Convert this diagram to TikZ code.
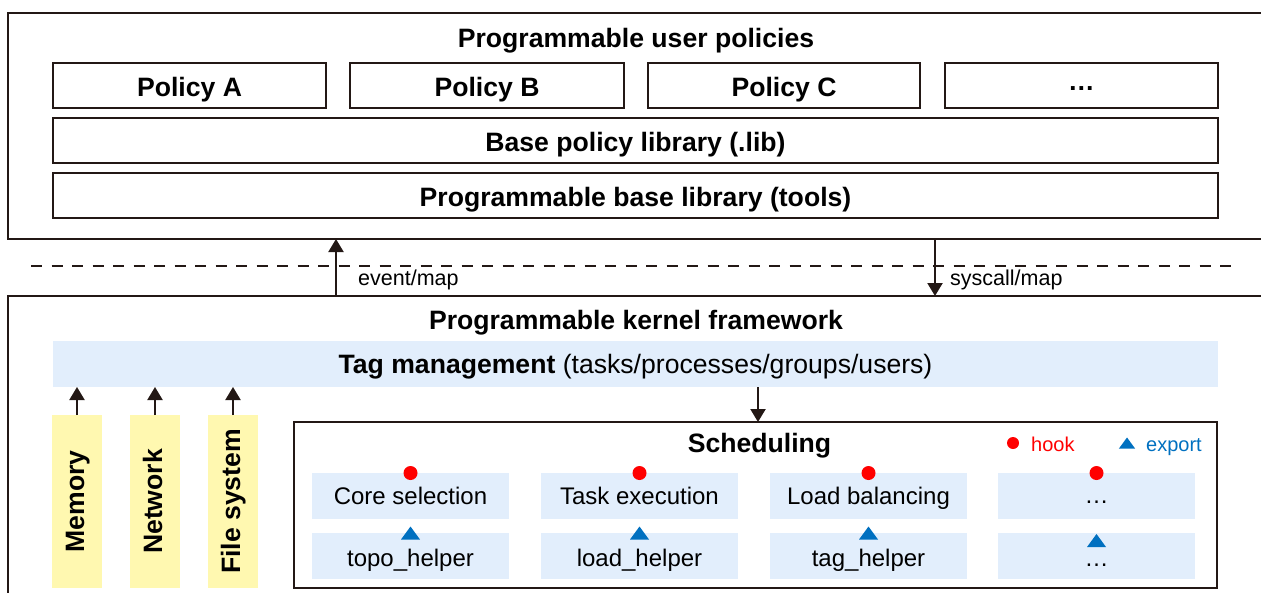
\documentclass[tikz,border=0pt]{standalone}
\usepackage{fontspec}
\setmainfont{Liberation Sans}
\usetikzlibrary{arrows.meta}
\definecolor{ink}{HTML}{231815}
\definecolor{tagblue}{HTML}{E2EEFC}
\definecolor{memyellow}{HTML}{FFF8B0}
\definecolor{hookred}{HTML}{FF0000}
\definecolor{expblue}{HTML}{0070C0}
\newcommand\bigbold{\fontsize{26.6}{30}\selectfont\bfseries}
\newcommand\subtext{\fontsize{24}{28}\selectfont}
\newcommand\edgetext{\fontsize{21.5}{25}\selectfont}
\newcommand\legendtext{\fontsize{20}{24}\selectfont}
\tikzset{
  frame/.style={draw=ink, line width=2.2pt, inner sep=0pt, outer sep=0pt},
  title/.style={font=\bigbold, text=black, inner sep=0pt, text height=19pt, text depth=0pt},
  policybox/.style={frame, font=\bigbold, text height=22pt, text depth=0pt, minimum height=45pt},
  tagbox/.style={fill=tagblue, inner sep=0pt, outer sep=0pt, font=\fontsize{26.6}{30}\selectfont,
    text height=19pt, text depth=0pt},
  subbox/.style={fill=tagblue, inner sep=0pt, outer sep=0pt, minimum width=197pt, minimum height=46pt,
    font=\subtext, text height=17.2pt, text depth=0pt},
  lowsub/.style={subbox, text height=21.2pt},
  resbox/.style={fill=memyellow, inner sep=0pt, outer sep=0pt, rotate=90, minimum width=173pt,
    minimum height=49.5pt, font=\bigbold, text height=19pt, text depth=5pt},
  arr/.style={draw=ink, line width=2.2pt, -{Triangle[width=15pt,length=13pt]}},
  edgelabel/.style={font=\edgetext, inner sep=0pt, anchor=west},
  hookdot/.style={circle, fill=hookred, inner sep=0pt, minimum size=14pt},
  exporttri/.pic={\fill[expblue] (-9.5,6.5) -- (9.5,6.5) -- (0,-6.5) -- cycle;}
}
\begin{document}
\begin{tikzpicture}[x=1pt,y=-1pt]
\useasboundingbox (0,0) rectangle (1261,592);
\clip (0,0) rectangle (1261,592);

% user-space layer
\node[frame, minimum width=1267pt, minimum height=226pt] (user) at (641.5,126) {};
\node[title] (usertitle) at (636,38) {Programmable user policies};
\node[policybox, minimum width=273pt] (pa) at (189.5,85.5) {Policy A};
\node[policybox, minimum width=274pt] (pb) at (487,85.5) {Policy B};
\node[policybox, minimum width=272pt] (pc) at (784,85.5) {Policy C};
\node[policybox, minimum width=273pt] (pd) at (1081.5,85.5) {\raisebox{6pt}{…}};
\node[policybox, minimum width=1165pt] (baselib) at (635.5,140.5) {Base policy library (.lib)};
\node[policybox, minimum width=1165pt] (toollib) at (635.5,195.5) {Programmable base library (tools)};

% user/kernel boundary
\draw[ink, line width=1.5pt, dash pattern=on 11pt off 9.5pt] (31,266) -- (1240,266);

% kernel layer
\node[frame, minimum width=1267pt, minimum height=314pt] (kernel) at (641.5,453) {};
\node[title] (kerneltitle) at (636,320) {Programmable kernel framework};
\node[tagbox, minimum width=1165pt, minimum height=46pt] (tag) at (635.5,364)
  {{\bfseries Tag management} (tasks/processes/groups/users)};

% crossings between the layers
\coordinate (evx) at (336,0);
\coordinate (scx) at (935,0);
\draw[arr] (kernel.north -| evx) -- (user.south -| evx);
\draw[arr] (user.south -| scx) -- (kernel.north -| scx);
\node[edgelabel] (evlabel) at (358,280) {event/map};
\node[edgelabel] (sclabel) at (950,280) {syscall/map};

% subsystems feeding tags
\node[resbox] (mem) at (77,501.5) {Memory};
\node[resbox, minimum height=50pt] (net) at (155,501.5) {Network};
\node[resbox, minimum height=50pt] (fs) at (233,501.5) {File system};
\foreach \r in {mem,net,fs}
  \draw[arr] (\r.east) -- (tag.south -| \r.east);

% scheduling block
\node[frame, minimum width=923pt, minimum height=166pt] (sched) at (755.5,505) {};
\coordinate (schx) at (758,0);
\draw[arr] (tag.south -| schx) -- (sched.north -| schx);
\node[title] (schedtitle) at (759.5,443) {Scheduling};

% legend
\node[hookdot, minimum size=12pt] (lhook) at (1013,443) {};
\node[font=\legendtext, text=hookred, inner sep=0pt, anchor=west, text height=14pt, text depth=0pt] (lhooktext) at (1031,444) {hook};
\pic[scale=0.85] at (1127,443) {exporttri};
\node[font=\legendtext, text=expblue, inner sep=0pt, anchor=west, text height=14pt, text depth=0pt] (lexptext) at (1146,444) {export};

% hook points and helpers
\node[subbox] (core) at (410.5,496) {Core selection};
\node[subbox] (exec) at (639.5,496) {Task execution};
\node[subbox] (bal) at (868.5,496) {Load balancing};
\node[subbox] (more) at (1096.5,496) {\raisebox{1.5pt}{…}};
\node[lowsub] (topo) at (410.5,556) {topo\_helper};
\node[lowsub] (load) at (639.5,556) {load\_helper};
\node[lowsub] (taghelp) at (868.5,556) {tag\_helper};
\node[lowsub] (morehelp) at (1096.5,556) {…};

\foreach \b in {core,exec,bal,more}
  \node[hookdot] at (\b.north) {};
\foreach \b in {topo,load,taghelp}
  \pic at (\b.north) {exporttri};
\pic[yshift=-7.5pt] at (morehelp.north) {exporttri};
\end{tikzpicture}
\end{document}
